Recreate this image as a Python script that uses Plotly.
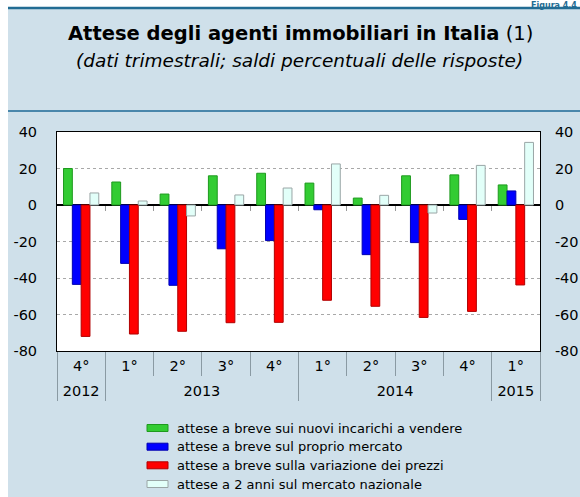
import plotly.graph_objects as go

years = ["2012", "2013", "2013", "2013", "2013", "2014", "2014", "2014", "2014", "2015"]
quarters = ["4°", "1°", "2°", "3°", "4°", "1°", "2°", "3°", "4°", "1°"]

nuovi_incarichi = [20, 12.6, 6, 16, 17.4, 12, 3.8, 16, 16.5, 11]
proprio_mercato = [-43.5, -32, -44, -24, -19.5, -2.6, -27.2, -20.6, -7.9, 7.7]
variazione_prezzi = [-72, -70.7, -69.2, -64.5, -64.3, -52.2, -55.5, -61.6, -58.3, -43.8]
mercato_nazionale = [6.6, 2.2, -6, 5.5, 9.3, 22.5, 5.3, -4.4, 21.7, 34.3]

series_names = [
    "attese a breve sui nuovi incarichi a vendere",
    "attese a breve sul proprio mercato",
    "attese a breve sulla variazione dei prezzi",
    "attese a 2 anni sul mercato nazionale",
]
y_ticks = [40, 20, 0, -20, -40, -60, -80]
y_ticktext = ["40", "20", "0", "-20", "-40", "-60", "-80"]
y_range = [-80, 40]

fills = ["#33cc33", "#0000ff", "#ff0000", "#e2fff9"]
lines = ["#1e9a1e", "#0000b0", "#b00000", "#9aa6a6"]

BG = "#cfe0ea"
FONT = "DejaVu Sans, Liberation Sans, Arial, sans-serif"

W, H = 580, 497
ml, mr, mt, mb = 57, 40, 132, 146
plot_w = W - ml - mr
plot_h = H - mt - mb


def px(xp):
    return (xp - ml) / plot_w


def py(yp):
    return (H - mb - yp) / plot_h


# category index helpers (derived from the category lists)
n = len(quarters)
cat_range = [-0.5, n - 0.5]
quarter_pos = list(range(n))
quarter_bounds = [i - 0.5 for i in range(n + 1)]
year_names, year_centers, year_bounds = [], [], [-0.5]
for i, yv in enumerate(years):
    if not year_names or year_names[-1] != yv:
        if year_names:
            year_bounds.append(i - 0.5)
        year_names.append(yv)
        idx = [j for j, v in enumerate(years) if v == yv]
        year_centers.append(sum(idx) / len(idx))
year_bounds.append(n - 0.5)

fig = go.Figure()
x = [years, [f"{q} {y}" for q, y in zip(quarters, years)]]
for vals, name, fc, lc in zip(
    [nuovi_incarichi, proprio_mercato, variazione_prezzi, mercato_nazionale],
    series_names, fills, lines,
):
    fig.add_trace(go.Bar(x=x, y=vals, name=name, showlegend=False,
                         marker=dict(color=fc, line=dict(color=lc, width=1))))

# invisible helper traces so that the overlay axes are drawn
for xa, ya in [("x2", "y2"), ("x3", "y"), ("x4", "y"), ("x5", "y")]:
    fig.add_trace(go.Scatter(x=[0], y=[0], xaxis=xa, yaxis=ya, mode="markers",
                             marker=dict(opacity=0), showlegend=False, hoverinfo="skip"))

zero_pos = (0 - y_range[0]) / (y_range[1] - y_range[0])
plain = dict(showline=False, showgrid=False, zeroline=False, automargin=False)

fig.update_layout(
    width=W, height=H,
    margin=dict(l=ml, r=mr, t=mt, b=mb, autoexpand=False),
    paper_bgcolor=BG,
    plot_bgcolor="white",
    barmode="group",
    bargap=0.27,
    bargroupgap=0,
    font=dict(family=FONT, size=14, color="black"),
    showlegend=False,
    xaxis=dict(
        type="multicategory", automargin=False,
        showline=True, linecolor="black", linewidth=1, mirror=True,
        ticks="", showticklabels=False, showdividers=False, showgrid=False,
    ),
    # small ticks on the zero line
    xaxis2=dict(
        overlaying="x", anchor="free", position=zero_pos, range=cat_range,
        tickvals=quarter_bounds[1:-1], ticks="outside", ticklen=5,
        tickcolor="#9a9a9a", showticklabels=False, **plain,
    ),
    # quarter labels
    xaxis3=dict(
        overlaying="x", anchor="y", side="bottom", range=cat_range,
        tickvals=quarter_pos, ticktext=quarters, ticks="",
        ticklabelstandoff=4, tickfont=dict(size=14.5), **plain,
    ),
    # year labels
    xaxis4=dict(
        overlaying="x", anchor="y", side="bottom", range=cat_range,
        tickvals=year_centers, ticktext=year_names, ticks="",
        ticklabelstandoff=29, tickfont=dict(size=14.5), **plain,
    ),
    # separators: quarters (short) and years (long)
    xaxis5=dict(
        overlaying="x", anchor="y", side="bottom", range=cat_range,
        tickvals=year_bounds, ticks="outside", ticklen=49, tickcolor="#8a9aa3",
        minor=dict(tickvals=quarter_bounds, ticks="outside", ticklen=24,
                   tickcolor="#8a9aa3", showgrid=False),
        showticklabels=False, **plain,
    ),
    yaxis=dict(
        range=y_range, tickvals=y_ticks, ticktext=y_ticktext, automargin=False,
        showline=True, linecolor="black", linewidth=1, mirror=True,
        showgrid=True, gridcolor="#a8a8a8", griddash="dot", gridwidth=1,
        zeroline=True, zerolinecolor="black", zerolinewidth=1.5,
        ticks="outside", ticklen=16, tickcolor="rgba(0,0,0,0)",
        tickfont=dict(size=14.5),
    ),
    yaxis2=dict(
        range=y_range, tickvals=y_ticks, ticktext=y_ticktext, overlaying="y",
        side="right", ticks="outside", ticklen=11, tickcolor="rgba(0,0,0,0)",
        tickfont=dict(size=14.5), **plain,
    ),
)

# frame decoration: white outer strips and dark blue rules
fig.add_shape(type="rect", xref="paper", yref="paper",
              x0=px(0), x1=px(8), y0=py(H), y1=py(0),
              fillcolor="white", line=dict(width=0), layer="below")
fig.add_shape(type="rect", xref="paper", yref="paper",
              x0=px(0), x1=px(W), y0=py(8), y1=py(0),
              fillcolor="white", line=dict(width=0), layer="below")
fig.add_shape(type="line", xref="paper", yref="paper",
              x0=px(8), x1=px(W), y0=py(8), y1=py(8),
              line=dict(color="#226c93", width=2.5))
fig.add_shape(type="line", xref="paper", yref="paper",
              x0=px(8), x1=px(W), y0=py(111), y1=py(111),
              line=dict(color="#4a87ab", width=2))

fig.add_annotation(
    text="<b>Attese degli agenti immobiliari in Italia</b> (1)",
    xref="paper", yref="paper", x=px(300), y=py(33),
    xanchor="center", yanchor="middle", showarrow=False,
    font=dict(size=19.5, family=FONT, color="black"),
)
fig.add_annotation(
    text="<i>(dati trimestrali; saldi percentuali delle risposte)</i>",
    xref="paper", yref="paper", x=px(299), y=py(60),
    xanchor="center", yanchor="middle", showarrow=False,
    font=dict(size=18.5, family=FONT, color="black"),
)
fig.add_annotation(
    text="<b>Figura 4.4</b>",
    xref="paper", yref="paper", x=px(579), y=py(-1),
    xanchor="right", yanchor="top", showarrow=False,
    font=dict(size=8, family=FONT, color="#226c93"),
)

# legend drawn as swatches + labels
row_y = [428, 446.7, 465.3, 484]
for name, fc, lc, ry in zip(series_names, fills, lines, row_y):
    fig.add_shape(type="rect", xref="paper", yref="paper",
                  x0=px(147), x1=px(168), y0=py(ry + 3.5), y1=py(ry - 3.5),
                  fillcolor=fc, line=dict(color=lc, width=1))
    fig.add_annotation(text=name, xref="paper", yref="paper",
                       x=px(175), y=py(ry), xanchor="left", yanchor="middle",
                       showarrow=False, font=dict(size=13, family=FONT, color="black"))

fig.write_html("out.html", config={"displayModeBar": False},
               post_script="document.body.style.margin='0';")
